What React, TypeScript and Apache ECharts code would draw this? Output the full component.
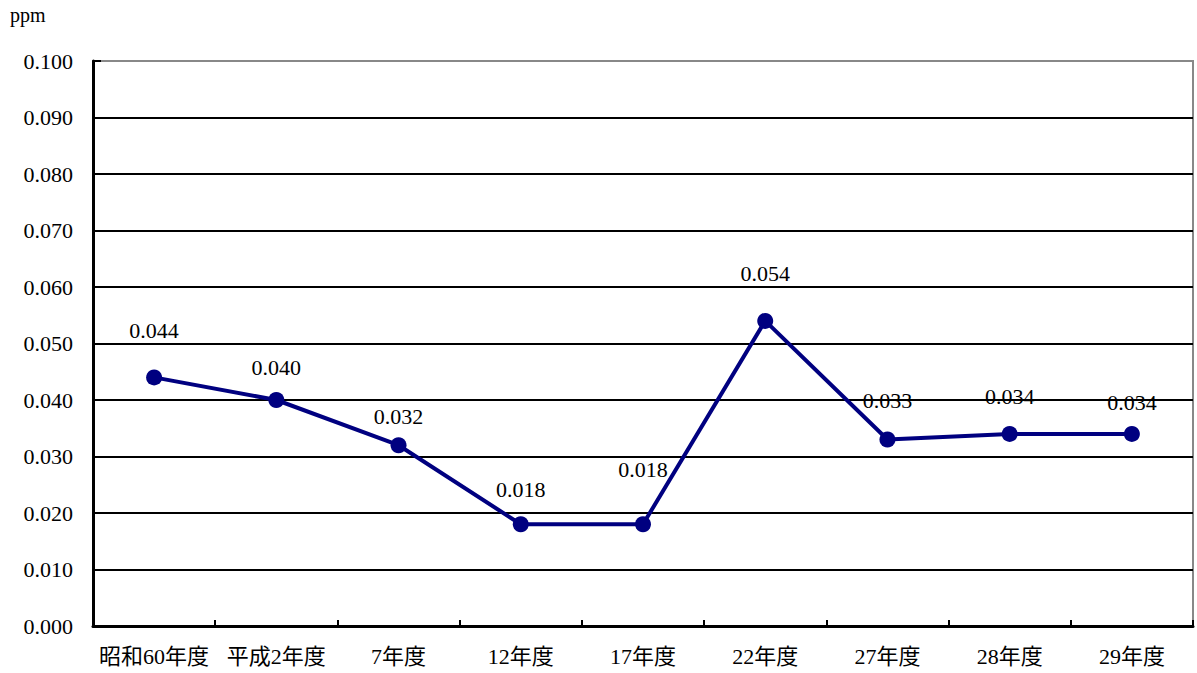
import React, { useEffect, useRef } from "react";
import * as echarts from "echarts";

const categories = ["昭和60年度", "平成2年度", "7年度", "12年度", "17年度", "22年度", "27年度", "28年度", "29年度"];
const values = [0.044, 0.04, 0.032, 0.018, 0.018, 0.054, 0.033, 0.034, 0.034];
const yMin = 0;
const yMax = 0.1;
const yInterval = 0.01;
const unitLabel = "ppm";

const FONT = "'Liberation Serif', 'Noto Sans CJK JP', serif";

export default function App() {
  const ref = useRef<HTMLDivElement>(null);
  useEffect(() => {
    if (!ref.current) return;
    // vertical label nudges (style only), matching the reference label placement
    const labelShift = [0, 14, 18, 12, -8, 0, 8, 10, 16];
    const chart = echarts.init(ref.current, null, { renderer: "svg" });
    chart.setOption({
      animation: false,
      textStyle: { fontFamily: FONT },
      grid: {
        left: 93,
        right: 4,
        top: 61,
        bottom: 47,
        show: true,
        borderColor: "#888888",
        borderWidth: 2,
        backgroundColor: "transparent",
      },
      xAxis: {
        type: "category",
        data: categories,
        boundaryGap: true,
        axisLine: { show: true, lineStyle: { color: "#000", width: 3 } },
        axisTick: { show: true, inside: true, length: 6, lineStyle: { color: "#000", width: 2 } },
        axisLabel: { color: "#000", fontSize: 22, margin: 19, fontFamily: FONT, interval: 0 },
        splitLine: { show: false },
      },
      yAxis: {
        type: "value",
        min: yMin,
        max: yMax,
        interval: yInterval,
        name: unitLabel,
        nameLocation: "end",
        nameGap: 0,
        nameTextStyle: { color: "#000", fontSize: 20, fontFamily: FONT, align: "left", verticalAlign: "bottom", padding: [0, 0, 36, -83] },
        axisLine: { show: true, lineStyle: { color: "#000", width: 3 } },
        axisTick: { show: true, inside: true, length: 8, lineStyle: { color: "#000", width: 2 } },
        axisLabel: {
          color: "#000",
          fontSize: 22,
          margin: 20,
          fontFamily: FONT,
          formatter: (v: number) => v.toFixed(3),
        },
        splitLine: { show: true, showMaxLine: false, lineStyle: { color: "#000", width: 2 } },
      },
      series: [
        {
          type: "line",
          data: values.map((v, i) => ({
            value: v,
            label: { offset: [0, labelShift[i]] },
          })),
          symbol: "circle",
          symbolSize: 16,
          itemStyle: { color: "#000080" },
          lineStyle: { color: "#000080", width: 4 },
          label: {
            show: true,
            position: "top",
            distance: 28,
            color: "#000",
            fontSize: 22,
            fontFamily: FONT,
            formatter: (p: any) => Number(p.value).toFixed(3),
          },
        },
      ],
    });
    return () => chart.dispose();
  }, []);
  return <div ref={ref} style={{ width: 1197, height: 673, position: "absolute", left: 0, top: 0 }} />;
}
